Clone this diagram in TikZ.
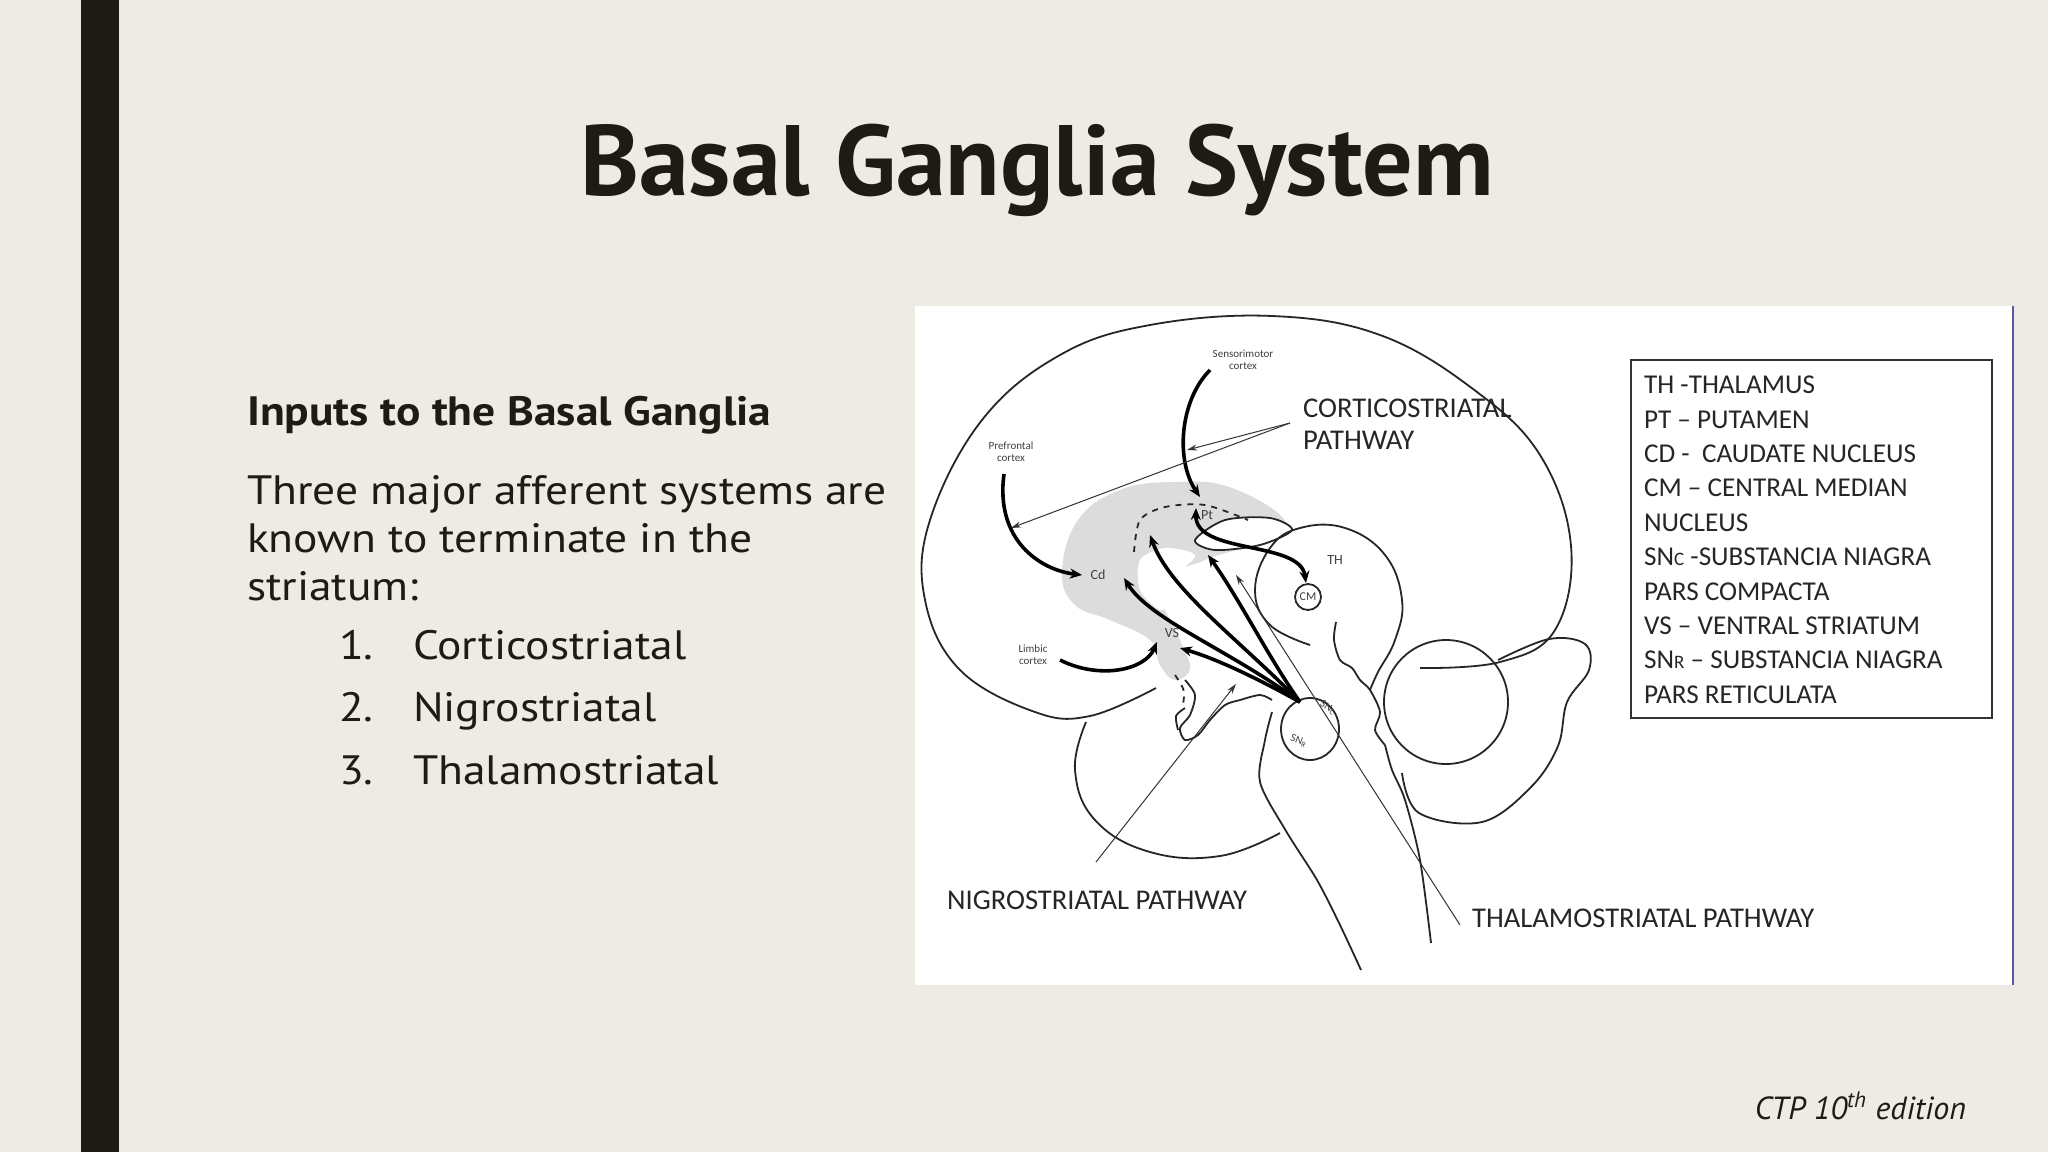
\documentclass[tikz,border=0pt]{standalone}
\usepackage{fontspec}
\setmainfont{PT Sans}
\newfontfamily\bodyf[FakeStretch=1.11]{PT Sans}
\newfontfamily\lgd{Carlito}
\usetikzlibrary{arrows.meta}
\definecolor{bg}{HTML}{EEEBE4}
\definecolor{ink}{HTML}{1C1C14}
\definecolor{stri}{HTML}{DCDCDC}
\tikzset{
 outl/.style={line width=0.9pt, black!85},
 thick arr/.style={line width=1.8pt, -{Stealth[length=6pt,width=5pt]}},
 thin arr/.style={line width=0.5pt, black!80, -{Stealth[length=5pt,width=3pt]}},
 tiny/.style={font=\lgd\fontsize{5.5}{6}\selectfont, align=center, black!75, inner sep=1pt},
 lab/.style={font=\lgd\fontsize{14.3}{16}\selectfont, black!85, anchor=west},
 listf/.style={font=\bodyf\fontsize{20.5}{24}\selectfont, text=ink, anchor=base west},
}
\begin{document}
\begin{tikzpicture}[x=0.5pt,y=-0.5pt]
\fill[bg] (0,0) rectangle (2048,1152);
\useasboundingbox (0,0) rectangle (2048,1152);
\fill[ink] (81,0) rectangle (119,1152);
\node[font=\bfseries\fontsize{50}{60}\selectfont, text=ink] (title) at (1037,170) {Basal Ganglia System};
\node[font=\bodyf\bfseries\fontsize{20.5}{24}\selectfont, text=ink, anchor=west] (sub) at (240,415) {Inputs to the Basal Ganglia};
\node[font=\bodyf\fontsize{20.5}{24}\selectfont, text=ink, anchor=north west, align=left] (body) at (240,468) {Three major afferent systems are\\known to terminate in the\\striatum:};
\foreach \n/\t/\y in {1/Corticostriatal/659,2/Nigrostriatal/721,3/Thalamostriatal/784}{
 \node[listf] (num\n) at (332,\y) {\n.};
 \node[listf] (item\n) at (406,\y) {\t};
}
\node[font=\itshape\fontsize{16}{20}\selectfont, text=ink, anchor=east] (ctp) at (1973,1106) {CTP 10\textsuperscript{th} edition};
% panel
\fill[white] (915,306) rectangle (2013,985);
\draw[blue!30!gray, line width=1pt] (2013,306) -- (2013,985);
% striatum grey
\fill[stri] plot[smooth cycle, tension=0.7] coordinates {(1062,572)(1078,520)(1120,490)(1175,482)(1232,488)(1286,523)(1250,545)(1205,560)(1160,585)(1180,640)(1190,668)(1175,680)(1160,665)(1150,640)(1110,620)(1075,605)};
\fill[white] plot[smooth cycle] coordinates {(1140,560)(1165,548)(1195,555)(1178,575)(1172,600)(1160,610)(1140,590)};
\draw[outl, fill=white] plot[smooth cycle] coordinates {(1195,540)(1225,520)(1270,518)(1292,530)(1260,545)(1215,550)};
% cerebrum
\draw[outl] plot[smooth, tension=0.65] coordinates {(1156,688)(1090,716)(1035,712)(960,670)(925,600)(930,520)(982,420)(1060,355)(1150,325)(1272,316)(1380,335)(1473,389)(1540,455)(1571,546)(1555,630)(1500,662)(1420,668)};
% temporal lobe
\draw[outl] plot[smooth, tension=0.7] coordinates {(1086,722)(1075,770)(1095,820)(1150,852)(1220,856)(1280,833)};
% lower limbic detail
\draw[outl] plot[smooth] coordinates {(1185,680)(1195,695)(1190,715)(1180,728)(1185,740)(1198,735)(1210,720)(1225,705)(1240,700)(1260,695)(1272,700)};
\draw[outl] plot[smooth] coordinates {(1185,708)(1176,716)(1178,730)};
\draw[outl, dashed] (1175,675) .. controls (1185,690) .. (1183,705);
% dashed putamen contour
\draw[outl, dashed] plot[smooth] coordinates {(1134,552)(1140,520)(1165,507)(1205,505)(1248,520)};
% thalamus
\draw[outl] plot[smooth, tension=0.7] coordinates {(1310,645)(1270,625)(1255,590)(1270,548)(1300,528)(1345,528)(1385,555)(1402,600)(1395,640)(1378,672)(1370,690)};
\draw[outl] plot[smooth] coordinates {(1336,622)(1334,640)(1340,660)(1352,668)(1360,680)(1370,690)(1380,712)(1375,730)(1385,745)};
% brainstem
\draw[outl] plot[smooth] coordinates {(1272,712)(1265,740)(1260,782)(1286,831)(1317,880)(1340,925)(1361,970)};
\draw[outl] plot[smooth] coordinates {(1385,745)(1392,770)(1405,800)(1420,860)(1431,943)};
% SN
\draw[outl] (1310,729) ellipse (29 and 31);
% cerebellum and tectum
\draw[outl] (1446,702) circle (62);
\draw[outl] plot[smooth, tension=0.6] coordinates {(1498,660)(1549,639)(1585,644)(1589,670)(1567,702)(1558,746)(1531,787)(1482,822)(1419,813)(1402,773)};
% CM
\draw[outl] (1308,597) circle (13);
\node[tiny, font=\lgd\fontsize{6}{7}\selectfont] (cm) at (1308,597) {CM};
% labels
\node[tiny] (sens) at (1243,360) {Sensorimotor\\cortex};
\node[tiny] (pref) at (1011,452) {Prefrontal\\cortex};
\node[tiny] (limb) at (1033,655) {Limbic\\cortex};
\node[tiny, font=\lgd\fontsize{7}{8}\selectfont] (cd) at (1098,575) {Cd};
\node[tiny, font=\lgd\fontsize{7}{8}\selectfont] (pt) at (1207,515) {Pt};
\node[tiny, font=\lgd\fontsize{7}{8}\selectfont] (vs) at (1172,633) {VS};
\node[tiny, font=\lgd\fontsize{7}{8}\selectfont] (th) at (1335,560) {TH};
\node[tiny, rotate=-30] (snc) at (1328,708) {SN\textsubscript{C}};
\node[tiny, rotate=-20] (snr) at (1299,741) {SN\textsubscript{R}};
\coordinate (sn) at (1300,702);
% thick arrows
\draw[thick arr] (1210,370) .. controls (1180,400) and (1175,460) .. (1200,497);
\draw[thick arr] (1004,474) .. controls (995,540) and (1040,570) .. (1082,575);
\draw[thick arr] (1060,660) .. controls (1100,680) and (1145,670) .. (1157,642);
\draw[thick arr] (sn) .. controls (1230,650) and (1150,620) .. (1124,578);
\draw[thick arr] (sn) .. controls (1240,640) and (1170,590) .. (1150,535);
\draw[thick arr] (sn) .. controls (1260,680) and (1220,660) .. (1180,648);
\draw[thick arr] (sn) .. controls (1270,660) and (1240,600) .. (1208,555);
\draw[line width=1.8pt, {Stealth[length=6pt,width=5pt]}-{Stealth[length=6pt,width=5pt]}] (1196,508) .. controls (1195,555) and (1300,540) .. (1306,583);
% pathway labels
\node[lab, align=left] (cortico) at (1296,424) {CORTICOSTRIATAL\\PATHWAY};
\node[lab] (nigro) at (940,900) {NIGROSTRIATAL PATHWAY};
\node[lab] (thala) at (1465,918) {THALAMOSTRIATAL PATHWAY};
\coordinate (cs) at (1290,423);
\draw[thin arr] (cs) -- (1187,450);
\draw[thin arr] (cs) -- (1011,528);
\draw[thin arr] (1096,862) -- (1236,684);
\draw[thin arr] (1460,925) -- (1236,575);
% legend
\draw[black!80, line width=0.8pt] (1631,360) rectangle (1992,718);
\node[font=\lgd\fontsize{13.6}{17.2}\selectfont, black!85, anchor=north west, align=left] (legend) at (1637,369) {TH -THALAMUS\\PT – PUTAMEN\\CD -\ \ CAUDATE NUCLEUS\\CM – CENTRAL MEDIAN\\NUCLEUS\\SN{\fontsize{9.5}{10}\selectfont C} -SUBSTANCIA NIAGRA\\PARS COMPACTA\\VS – VENTRAL STRIATUM\\SN{\fontsize{9.5}{10}\selectfont R} – SUBSTANCIA NIAGRA\\PARS RETICULATA};
\end{tikzpicture}
\end{document}
